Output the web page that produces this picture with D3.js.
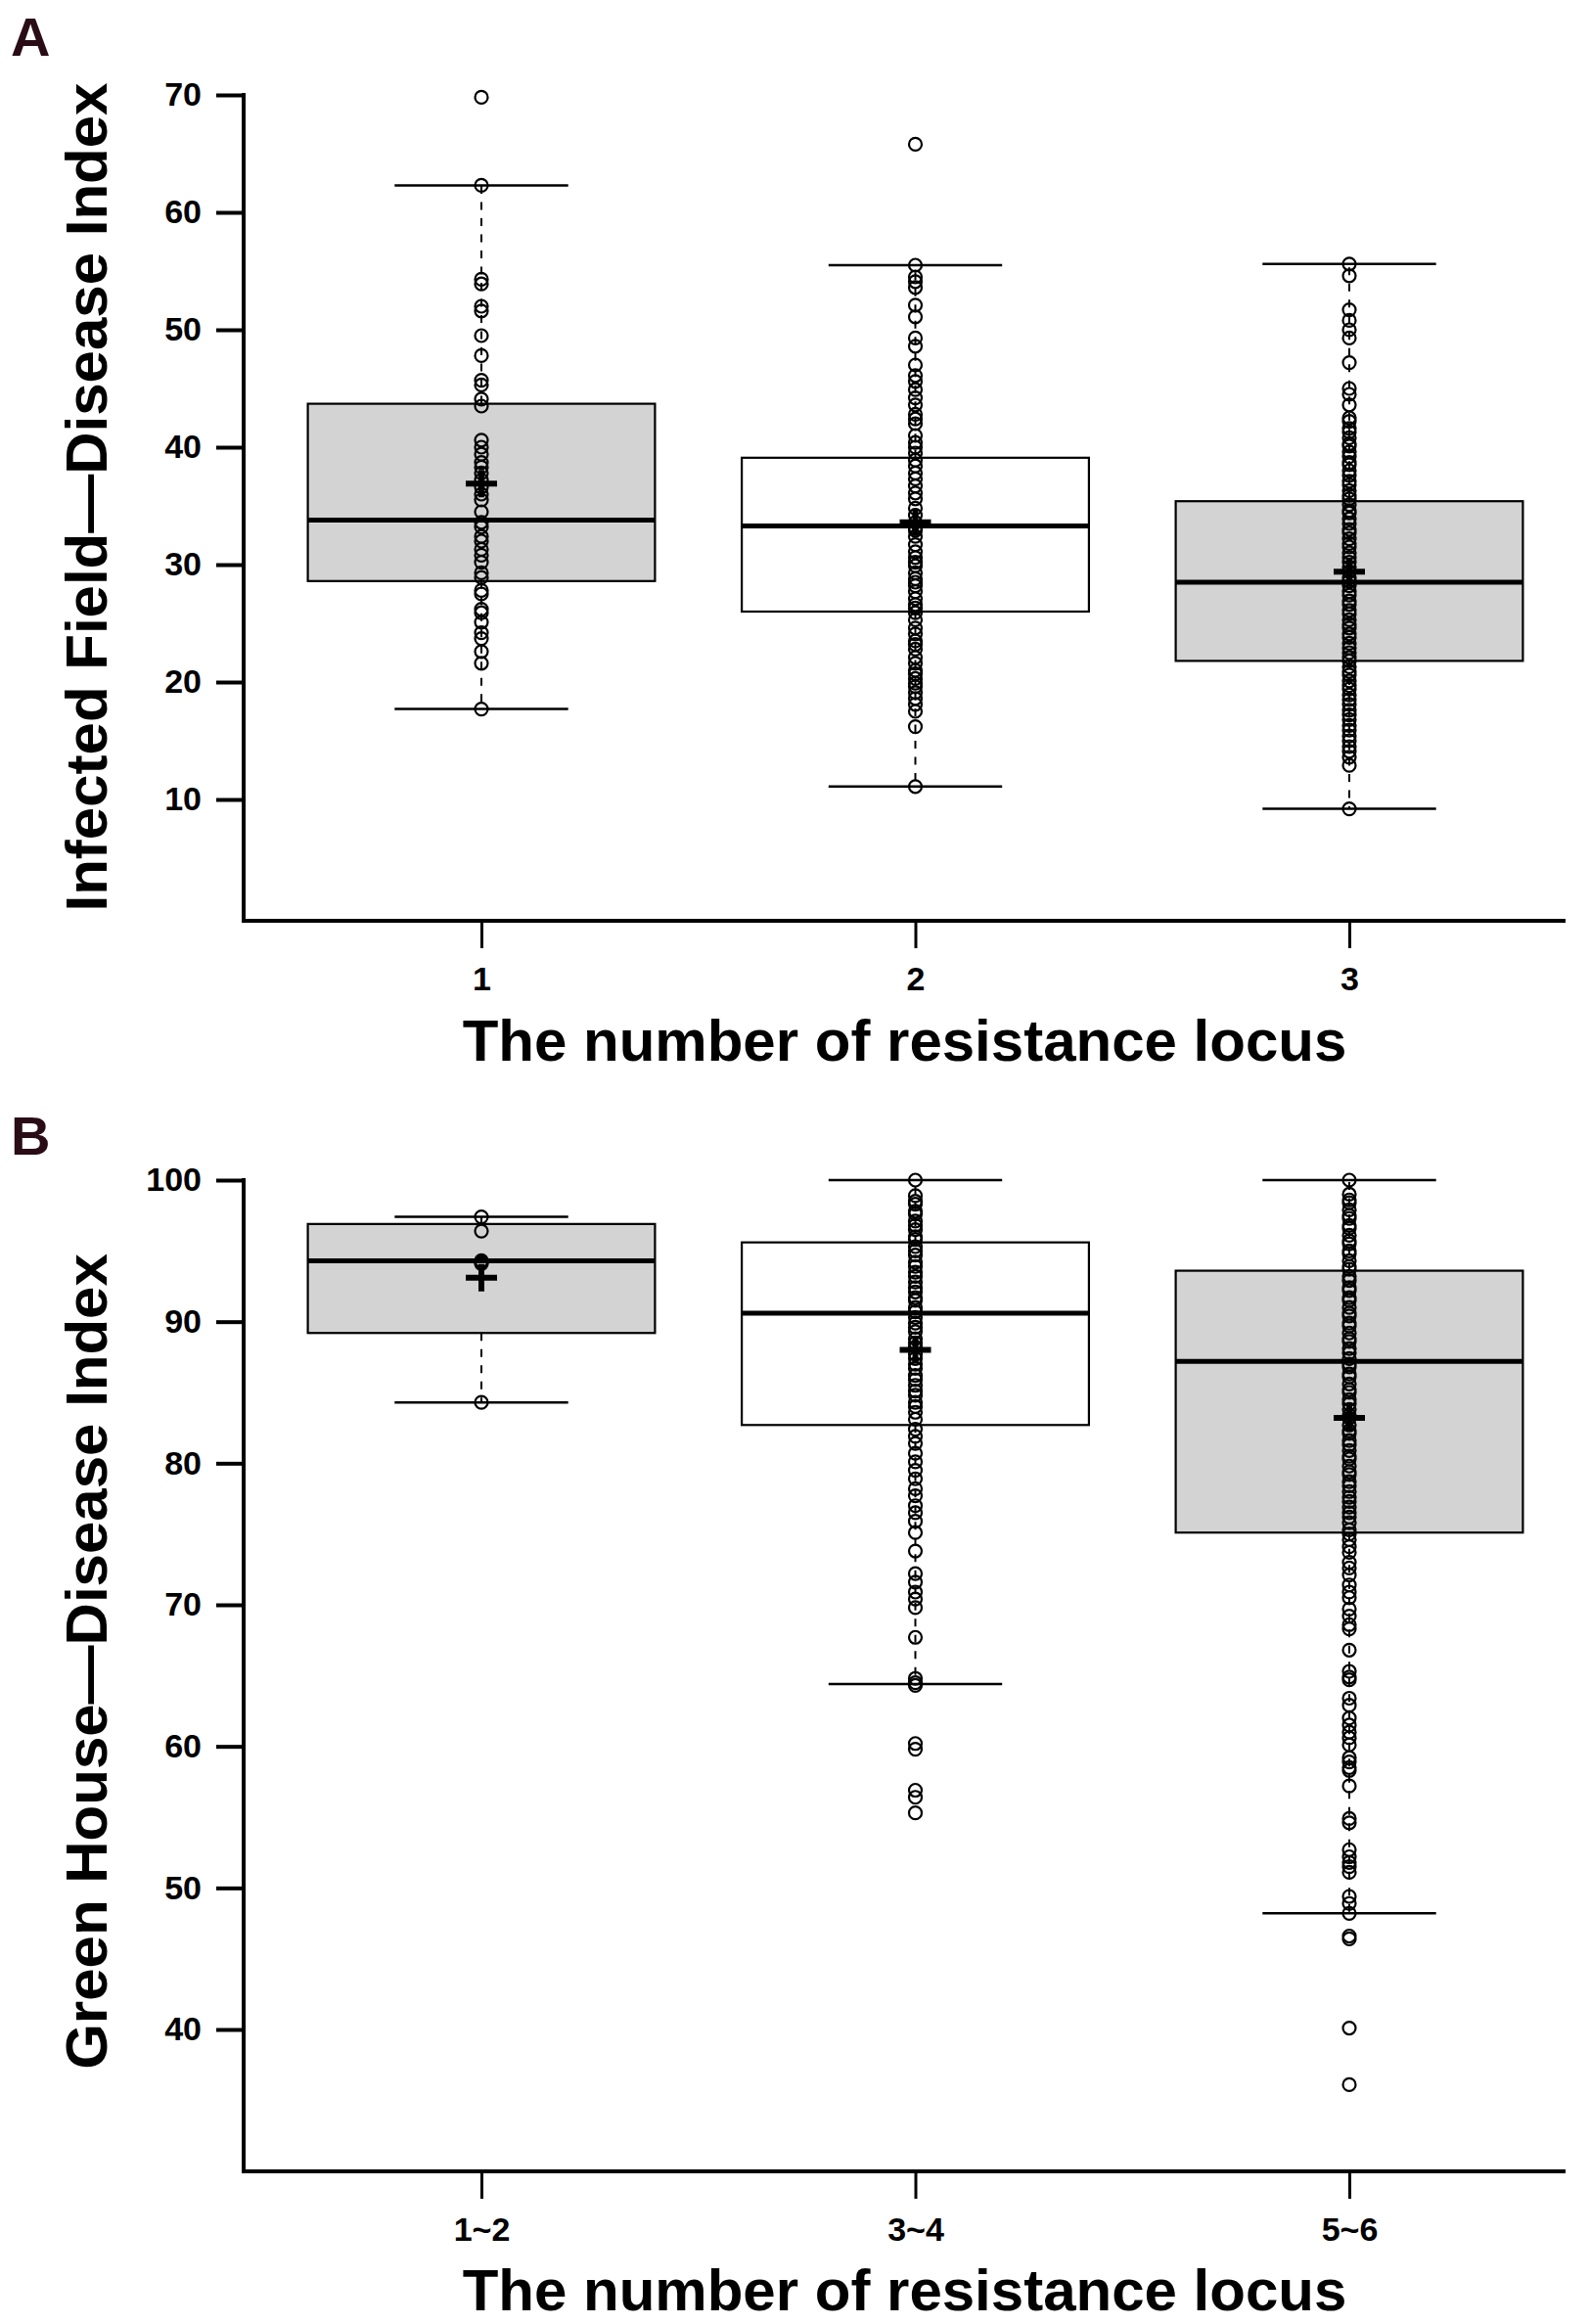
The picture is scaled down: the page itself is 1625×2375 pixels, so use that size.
<!DOCTYPE html>
<html>
<head>
<meta charset="utf-8">
<script src="https://cdn.jsdelivr.net/npm/d3@7"></script>
<style>
  body { margin: 0; background: #fff; }
  svg { display: block; font-family: "Liberation Sans", Arial, sans-serif; font-weight: bold; }
</style>
</head>
<body>
<script>
// ---- data ----
const catsA = ["1", "2", "3"];
const catsB = ["1~2", "3~4", "5~6"];

const yTicksA = [10, 20, 30, 40, 50, 60, 70];
const yTicksB = [40, 50, 60, 70, 80, 90, 100];

// box statistics, one entry per category
const lowA = [17.7, 11.1, 9.2];
const q1A = [28.6, 26.0, 21.8];
const medA = [33.8, 33.3, 28.5];
const q3A = [43.7, 39.1, 35.4];
const highA = [62.3, 55.5, 55.6];
const meanA = [36.9, 33.6, 29.4];

const lowB = [84.3, 64.4, 48.2];
const q1B = [89.2, 82.7, 75.1];
const medB = [94.3, 90.6, 87.2];
const q3B = [96.9, 95.6, 93.6];
const highB = [97.4, 100.0, 100.0];
const meanB = [93.1, 88.0, 83.2];

const fillA = ["#d3d3d3", "#ffffff", "#d3d3d3"];
const fillB = ["#d3d3d3", "#ffffff", "#d3d3d3"];

// individual observations
const ptsA1 = [69.8, 62.3, 54.3, 53.9, 52.0, 51.6, 49.5, 47.8, 45.7, 45.3, 44.1, 43.5, 40.6, 40.0, 39.4, 38.7,
  38.3, 37.8, 37.2, 36.6, 36.0, 35.5, 34.5, 33.6, 33.2, 32.4, 32.0, 31.3, 30.8, 30.2, 29.3, 28.9, 27.8, 27.5,
  26.2, 25.9, 25.1, 24.2, 23.7, 22.6, 21.6, 17.7];
const ptsA2 = [65.8, 55.5, 54.5, 54.1, 53.6, 52.1, 51.1, 49.3, 48.6, 47.0, 46.1, 45.6, 44.9, 44.2, 43.6, 42.8,
  42.4, 42.0, 41.0, 40.4, 40.0, 39.5, 38.9, 38.4, 37.8, 37.3, 36.7, 36.1, 35.6, 34.8, 34.2, 33.6, 33.1, 32.9,
  32.4, 31.7, 31.1, 30.6, 30.2, 29.9, 29.3, 28.8, 28.5, 28.2, 27.7, 27.1, 26.6, 26.3, 25.9, 25.3, 24.6, 24.1,
  23.5, 23.2, 22.8, 22.1, 21.6, 21.0, 20.7, 20.3, 19.9, 19.6, 19.1, 18.6, 18.1, 17.5, 16.2, 11.1];
const ptsA3 = [55.6, 54.6, 51.7, 50.8, 50.0, 49.3, 47.2, 45.0, 44.5, 43.6, 42.5, 42.2, 41.6, 41.3, 40.8, 40.3,
  40.1, 39.6, 39.2, 38.7, 38.5, 38.0, 37.6, 37.1, 36.8, 36.3, 35.9, 35.6, 35.1, 34.6, 34.4, 33.9, 33.5, 33.0,
  32.7, 32.2, 31.8, 31.5, 31.0, 30.6, 30.2, 29.8, 29.4, 28.9, 28.6, 28.2, 27.7, 27.4, 26.9, 26.6, 26.1, 25.8,
  25.3, 24.9, 24.6, 24.1, 23.8, 23.3, 22.9, 22.5, 22.1, 21.8, 21.3, 20.9, 20.6, 20.1, 19.7, 19.4, 18.9, 18.5,
  18.1, 17.6, 17.2, 16.8, 16.3, 15.9, 15.4, 15.0, 14.5, 14.1, 13.6, 12.9, 9.2];

const ptsB1 = [97.4, 96.4, 94.3, 94.2, 94.1, 84.3];
const ptsB2 = [100.0, 98.9, 98.5, 98.3, 97.8, 97.6, 97.1, 96.8, 96.5, 96.0, 95.8, 95.3, 95.0, 94.7, 94.2, 93.9,
  93.5, 93.2, 92.8, 92.4, 92.1, 91.7, 91.5, 91.0, 90.7, 90.3, 89.9, 89.6, 89.3, 88.8, 88.5, 88.2, 87.7, 87.4,
  87.0, 86.7, 86.2, 85.9, 85.5, 85.1, 84.8, 84.3, 84.0, 83.6, 83.1, 82.4, 81.9, 81.4, 80.7, 80.1, 79.5, 78.9,
  78.2, 77.7, 77.0, 76.5, 75.9, 75.1, 73.8, 72.2, 71.6, 70.9, 70.4, 69.8, 67.7, 64.8, 64.5, 64.3, 60.2, 59.8,
  56.9, 56.4, 55.3];
const ptsB3 = [100.0, 99.0, 98.6, 98.4, 97.9, 97.5, 97.3, 96.8, 96.6, 96.1, 95.7, 95.5, 95.0, 94.8, 94.3, 93.9,
  93.7, 93.2, 92.9, 92.4, 92.2, 91.7, 91.5, 91.0, 90.6, 90.4, 89.9, 89.7, 89.2, 88.8, 88.6, 88.1, 87.8, 87.4,
  87.0, 86.8, 86.3, 86.1, 85.6, 85.2, 85.0, 84.5, 84.2, 83.8, 83.4, 83.2, 82.7, 82.3, 82.1, 81.6, 81.3, 80.9,
  80.5, 80.3, 79.8, 79.4, 79.2, 78.7, 78.4, 78.0, 77.6, 77.3, 76.9, 76.5, 76.2, 75.8, 75.3, 75.0, 74.6, 74.1,
  73.7, 73.0, 72.6, 72.1, 71.4, 70.9, 70.5, 69.7, 69.2, 68.6, 68.3, 66.8, 65.3, 64.9, 64.7, 63.4, 62.9, 62.0,
  61.5, 61.0, 60.6, 60.1, 59.2, 58.9, 58.5, 58.3, 57.2, 54.9, 54.6, 52.7, 52.2, 51.8, 51.5, 51.1, 49.4, 48.9,
  48.2, 46.6, 46.4, 40.1, 36.1];

// ---- layout ----
const svgWidth = 1625;
const svgHeight = 2375;
const axisX = 249;      // left axis line
const axisRight = 1600; // end of bottom axis line

const svg = d3.select("body")
  .append("svg")
  .attr("width", svgWidth)
  .attr("height", svgHeight);

function drawPanel(p) {
  const g = svg.append("g");

  const x = d3.scalePoint().domain(p.cats).range([492, 1379]);
  const y = d3.scaleLinear().domain(p.domain).range(p.range);
  const boxW = x.step() * 0.8;

  const rows = p.cats.map((c, i) => ({
    cat: c, low: p.low[i], q1: p.q1[i], med: p.med[i], q3: p.q3[i],
    high: p.high[i], mean: p.mean[i], fill: p.fill[i], pts: p.pts[i]
  }));

  // boxes
  const box = g.selectAll(".box").data(rows).enter().append("g").attr("class", "box");

  box.append("line")
    .attr("x1", d => x(d.cat)).attr("x2", d => x(d.cat))
    .attr("y1", d => y(d.q3)).attr("y2", d => y(d.high))
    .attr("stroke", "#000").attr("stroke-width", 2).attr("stroke-dasharray", "8,8.5");
  box.append("line")
    .attr("x1", d => x(d.cat)).attr("x2", d => x(d.cat))
    .attr("y1", d => y(d.q1)).attr("y2", d => y(d.low))
    .attr("stroke", "#000").attr("stroke-width", 2).attr("stroke-dasharray", "8,8.5");

  // whisker caps
  ["low", "high"].forEach(k => {
    box.append("line")
      .attr("x1", d => x(d.cat) - boxW / 4).attr("x2", d => x(d.cat) + boxW / 4)
      .attr("y1", d => y(d[k])).attr("y2", d => y(d[k]))
      .attr("stroke", "#000").attr("stroke-width", 2.5);
  });

  box.append("rect")
    .attr("x", d => x(d.cat) - boxW / 2)
    .attr("width", boxW)
    .attr("y", d => y(d.q3))
    .attr("height", d => y(d.q1) - y(d.q3))
    .attr("fill", d => d.fill)
    .attr("stroke", "#000")
    .attr("stroke-width", 2.2);

  box.append("line")
    .attr("x1", d => x(d.cat) - boxW / 2).attr("x2", d => x(d.cat) + boxW / 2)
    .attr("y1", d => y(d.med)).attr("y2", d => y(d.med))
    .attr("stroke", "#000").attr("stroke-width", 5);

  // points
  box.selectAll("circle")
    .data(d => d.pts.map(v => ({ cat: d.cat, v: v })))
    .enter()
    .append("circle")
    .attr("cx", d => x(d.cat))
    .attr("cy", d => y(d.v))
    .attr("r", 6.5)
    .attr("fill", "none")
    .attr("stroke", "#000")
    .attr("stroke-width", 2.2);

  // mean marker "+"
  box.append("path")
    .attr("d", d => {
      const cx = x(d.cat), cy = y(d.mean);
      return `M${cx - 16},${cy}H${cx + 16}M${cx},${cy - 14}V${cy + 14}`;
    })
    .attr("stroke", "#000").attr("stroke-width", 6).attr("fill", "none");

  // axes
  const leftAxis = d3.axisLeft(y).tickValues(p.yTicks).tickSize(28).tickPadding(15).tickFormat(d3.format("d"));
  g.append("g")
    .attr("transform", `translate(${axisX}, 0)`)
    .call(leftAxis)
    .call(a => a.select(".domain").remove())
    .call(a => a.selectAll(".tick line").attr("stroke-width", 4))
    .call(a => a.selectAll(".tick text")
      .attr("font-size", 34).attr("font-family", "Liberation Sans, Arial, sans-serif")
      .attr("font-weight", "bold").attr("fill", "#000"));

  g.append("line")
    .attr("x1", axisX).attr("x2", axisX)
    .attr("y1", y(d3.max(p.yTicks)) - 2).attr("y2", p.axisY)
    .attr("stroke", "#000").attr("stroke-width", 4);

  const bottomAxis = d3.axisBottom(x).tickSize(28).tickSizeOuter(0);
  g.append("g")
    .attr("transform", `translate(0, ${p.axisY})`)
    .call(bottomAxis)
    .call(a => a.select(".domain").remove())
    .call(a => a.selectAll(".tick line").attr("stroke-width", 3))
    .call(a => a.selectAll(".tick text")
      .attr("y", 71).attr("dy", 0)
      .attr("font-size", 34).attr("font-family", "Liberation Sans, Arial, sans-serif")
      .attr("font-weight", "bold").attr("fill", "#000"));

  g.append("line")
    .attr("x1", axisX - 2).attr("x2", axisRight)
    .attr("y1", p.axisY).attr("y2", p.axisY)
    .attr("stroke", "#000").attr("stroke-width", 4);

  // labels
  g.append("text")
    .attr("transform", `translate(109, ${p.yLabelY}) rotate(-90)`)
    .attr("text-anchor", "middle")
    .attr("font-size", 60)
    .text(p.yLabel);

  g.append("text")
    .attr("x", (axisX + axisRight) / 2)
    .attr("y", p.xLabelY)
    .attr("text-anchor", "middle")
    .attr("font-size", 60)
    .text("The number of resistance locus");

  g.append("text")
    .attr("x", 11)
    .attr("y", p.letterY)
    .attr("font-size", 56)
    .attr("fill", "#2a0c16")
    .text(p.letter);
}

drawPanel({
  cats: catsA, yTicks: yTicksA, domain: [10, 70], range: [817, 97], axisY: 941,
  low: lowA, q1: q1A, med: medA, q3: q3A, high: highA, mean: meanA, fill: fillA,
  pts: [ptsA1, ptsA2, ptsA3],
  yLabel: "Infected Field\u2014Disease Index", yLabelY: 508, xLabelY: 1084,
  letter: "A", letterY: 57
});

drawPanel({
  cats: catsB, yTicks: yTicksB, domain: [40, 100], range: [2074, 1206], axisY: 2219,
  low: lowB, q1: q1B, med: medB, q3: q3B, high: highB, mean: meanB, fill: fillB,
  pts: [ptsB1, ptsB2, ptsB3],
  yLabel: "Green House\u2014Disease Index", yLabelY: 1698, xLabelY: 2361,
  letter: "B", letterY: 1180
});
</script>
</body>
</html>
